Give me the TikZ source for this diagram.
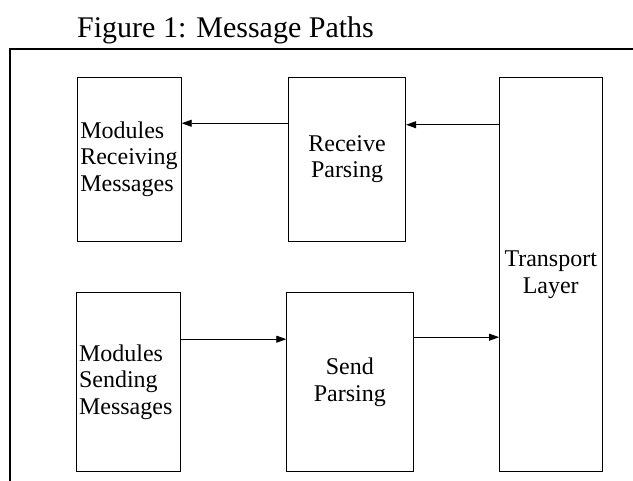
\documentclass[tikz,border=0pt]{standalone}
\usepackage{fontspec}
\setmainfont{Liberation Serif}
\usetikzlibrary{arrows.meta}

\tikzset{
  block/.style={draw,rectangle,line width=0.8pt,inner sep=3pt,
    font=\fontsize{24}{26.5}\selectfont},
  leftblock/.style={block,align=left},
  midblock/.style={block,align=center},
  flow/.style={line width=0.8pt,-{Triangle[length=10pt,width=7pt]}}
}

\begin{document}
\begin{tikzpicture}[x=1pt,y=-1pt]
\useasboundingbox (0,0) rectangle (633,481);

%title
\node[anchor=base west,inner sep=0,font=\fontsize{30}{34}\selectfont] (title) at (77,37.5) {Figure 1: Message Paths};

%frame
\draw[line width=1.6pt] (10,481) -- (10,49.3) -- (633,49.3);

%boxes
\node[leftblock,text width=98pt,minimum height=163.5pt] (recv) at (129.3,159.25) {Modules\\Receiving\\Messages};
\node[midblock,minimum width=117.5pt,minimum height=163.5pt] (rparse) at (347,159.25) {Receive\\Parsing};
\node[midblock,minimum width=102.5pt,minimum height=394.2pt] (trans) at (550.75,274.6) {Transport\\Layer};
\node[leftblock,text width=98.3pt,minimum height=179pt] (send) at (128.2,382.2) {Modules\\Sending\\Messages};
\node[midblock,minimum width=126.3pt,minimum height=179pt] (sparse) at (349.85,382.2) {Send\\Parsing};

%arrows
\draw[flow] ([yshift=36pt]rparse.west) -- ([yshift=36pt]recv.east);
\draw[flow] ([yshift=34.5pt]trans.west |- rparse.east) -- ([yshift=34.5pt]rparse.east);
\draw[flow] ([yshift=43pt]send.east) -- ([yshift=43pt]sparse.west);
\draw[flow] ([yshift=45pt]sparse.east) -- ([yshift=45pt]trans.west |- sparse.east);
\end{tikzpicture}
\end{document}
